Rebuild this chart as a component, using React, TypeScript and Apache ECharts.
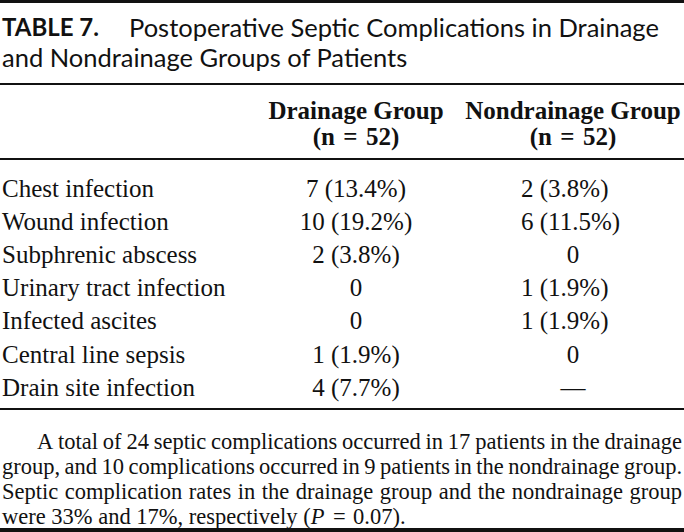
import React, { useEffect, useRef } from "react";
import * as echarts from "echarts";

const titleLabel = "TABLE 7.";
const titleLines = [
  "Postoperative Septic Complications in Drainage",
  "and Nondrainage Groups of Patients",
];
const groupNames = ["Drainage Group", "Nondrainage Group"];
const groupSizes = ["(n = 52)", "(n = 52)"];
const complications = [
  "Chest infection",
  "Wound infection",
  "Subphrenic abscess",
  "Urinary tract infection",
  "Infected ascites",
  "Central line sepsis",
  "Drain site infection",
];
const drainageCounts = ["7 (13.4%)", "10 (19.2%)", "2 (3.8%)", "0", "0", "1 (1.9%)", "4 (7.7%)"];
const nondrainageCounts = ["2 (3.8%)", "6 (11.5%)", "0", "1 (1.9%)", "1 (1.9%)", "0", "—"];
const footnoteLines = [
  "A total of 24 septic complications occurred in 17 patients in the drainage",
  "group, and 10 complications occurred in 9 patients in the nondrainage group.",
  "Septic complication rates in the drainage group and the nondrainage group",
];
const footnoteLast = ["were 33% and 17%, respectively (", "P", " = 0.07)."];

const W = 684;
const H = 532;
const SERIF = '"Liberation Serif", "Times New Roman", serif';
const SANS = 'Lato, "Noto Sans", sans-serif';
const INK = "#111";

// slightly wider spacing around "=" as in the typeset table
const eq = (s: string) => s.replace(/ = /g, "\u2004=\u2004");

function measurer() {
  const c = document.createElement("canvas");
  const ctx = c.getContext("2d")!;
  return (text: string, size: number, family: string, style = "normal", weight = "normal") => {
    ctx.font = `${style} ${weight} ${size}px ${family}`;
    return ctx.measureText(text).width;
  };
}

export default function App() {
  const ref = useRef<HTMLDivElement>(null);
  useEffect(() => {
    document.body.style.margin = "0";
    const chart = echarts.init(ref.current!, null, { renderer: "svg" });
    const measure = measurer();
    const els: any[] = [];
    const rule = (y: number, h: number) =>
      els.push({ type: "rect", shape: { x: 0, y, width: W, height: h }, style: { fill: INK } });
    const txt = (
      text: string,
      x: number,
      y: number,
      size: number,
      family: string,
      align = "left",
      weight = "normal",
      style = "normal"
    ) =>
      els.push({
        type: "text",
        x,
        y,
        style: {
          text,
          fontSize: size,
          fontFamily: family,
          fontWeight: weight,
          fontStyle: style,
          fill: INK,
          textAlign: align,
          textVerticalAlign: "middle",
        },
      });

    // rules
    rule(0, 3);
    rule(83, 2);
    rule(158, 2);
    rule(408, 2);
    rule(528, 4);

    // title
    const tSize = 25.5;
    txt(titleLabel, 2, 26.5, 24, SANS, "left", "bold");
    txt(titleLines[0], 129, 26.5, tSize, SANS);
    txt(titleLines[1], 2, 56.5, tSize, SANS);

    // header
    const colX = [356, 573];
    const bSize = 25;
    groupNames.forEach((g, i) => {
      txt(g, colX[i], 110, bSize, SERIF, "center", "bold");
      txt(eq(groupSizes[i]), colX[i], 136, bSize, SERIF, "center", "bold");
    });

    // rows
    const rowY0 = 188;
    const rowStep = 33.2;
    complications.forEach((c, i) => {
      const y = rowY0 + i * rowStep;
      txt(c, 2, y, bSize, SERIF);
      txt(drainageCounts[i], colX[0], y, bSize, SERIF, "center");
      const v = nondrainageCounts[i];
      if (v.includes("(")) txt(v, 521, y, bSize, SERIF, "left");
      else txt(v, colX[1], y, bSize, SERIF, "center");
    });

    // footnote (justified lines)
    const fSize = 22.5;
    const fY0 = 441;
    const fStep = 25.3;
    footnoteLines.forEach((line, li) => {
      const x0 = li === 0 ? 37 : 2;
      const x1 = 682;
      const words = line.split(" ");
      const widths = words.map((w) => measure(w, fSize, SERIF));
      const total = widths.reduce((a, b) => a + b, 0);
      const gap = (x1 - x0 - total) / (words.length - 1);
      let x = x0;
      words.forEach((w, wi) => {
        txt(w, x, fY0 + li * fStep, fSize, SERIF);
        x += widths[wi] + gap;
      });
    });
    {
      const y = fY0 + 3 * fStep;
      const parts = [footnoteLast[0], footnoteLast[1], eq(footnoteLast[2])];
      let x = 2;
      txt(parts[0], x, y, fSize, SERIF);
      x += measure(parts[0], fSize, SERIF);
      txt(parts[1], x, y, fSize, SERIF, "left", "normal", "italic");
      x += measure(parts[1], fSize, SERIF, "italic") + 1;
      txt(parts[2], x, y, fSize, SERIF);
    }

    chart.setOption({
      animation: false,
      backgroundColor: "#fff",
      graphic: { elements: els },
    });
    return () => chart.dispose();
  }, []);
  return <div ref={ref} style={{ width: W, height: H }} />;
}
